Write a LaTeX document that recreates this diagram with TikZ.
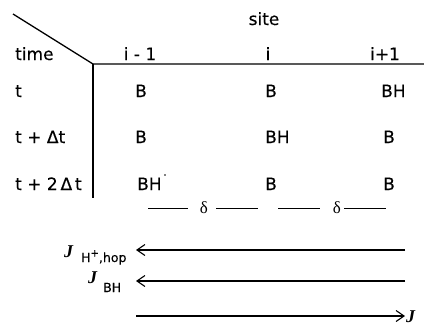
\documentclass[tikz,border=0pt]{standalone}
\usepackage{fontspec}
\setmainfont[FakeBold=0.3]{DejaVu Sans}
\newfontfamily\jfont{Liberation Serif}
\usetikzlibrary{arrows.meta}
\begin{document}
\begin{tikzpicture}[x=1pt,y=-1pt,
  lbl/.style={font=\fontsize{17}{20}\selectfont, inner sep=0pt, anchor=base west},
  hdr/.style={font=\fontsize{17}{20}\selectfont, inner sep=0pt, anchor=base},
  dlt/.style={font=\jfont\fontsize{17}{20}\selectfont, inner sep=0pt, anchor=base},
  jsym/.style={font=\jfont\fontsize{18}{20}\selectfont\bfseries\itshape, inner sep=0pt, anchor=base west},
  jsub/.style={font=\fontsize{12.5}{14}\selectfont, inner sep=0pt, anchor=base west},
  rule/.style={line width=1.3pt},
  dline/.style={line width=1pt},
  flux/.style={line width=1.1pt},
  tip/.style={-{Straight Barb[length=8pt,width=11pt,line width=1.1pt]}}
]
\useasboundingbox (0,0) rectangle (424,330);
% table frame
\coordinate (diag) at (13,14);
\coordinate (corner) at (93,64);
\coordinate (hend) at (424,64);
\coordinate (vend) at (93,198);
\draw[rule] (diag) -- (corner) -- (hend);
\draw[rule] (corner) -- (vend);
% headers
\node[hdr] (site) at (264,25) {site};
\node[lbl] (time) at (15,60) {time};
\node[hdr] (c1) at (140,60) {i - 1};
\node[hdr] (c2) at (268,60) {i};
\node[hdr] (c3) at (385,60) {i+1};
% row labels
\node[lbl] (r1) at (15,97) {t};
\node[lbl] (r2) at (15,143) {t + Δt};
\node[lbl] (r3) at (15,190) {t + 2\,Δ\,t};
% cells
\node[lbl] (b11) at (135,97) {B};
\node[lbl] (b12) at (265,97) {B};
\node[lbl] (b13) at (381,97) {BH};
\node[lbl] (b21) at (135,143) {B};
\node[lbl] (b22) at (265,143) {BH};
\node[lbl] (b23) at (383,143) {B};
\node[lbl] (b31) at (137,190) {BH};
\fill (165,175) circle (0.8pt);
\node[lbl] (b32) at (265,190) {B};
\node[lbl] (b33) at (383,190) {B};
% delta spacing
\node[dlt] (d1) at (204,213) {δ};
\node[dlt] (d2) at (337,213) {δ};
\coordinate (d1a) at (148,208);
\coordinate (d1b) at (258,208);
\coordinate (d2a) at (278,208);
\coordinate (d2b) at (386,208);
\draw[dline] (d1a) -- (d1a -| 188,0);
\draw[dline] (d1b -| 216,0) -- (d1b);
\draw[dline] (d2a) -- (d2a -| 320,0);
\draw[dline] (d2b -| 344,0) -- (d2b);
% fluxes
\node[jsym] (j1) at (64,257) {J};
\node[jsub] (s1) at (81,262) {H\raisebox{5.5pt}{\fontsize{10}{12}\selectfont +},hop};
\node[jsym] (j2) at (88,283) {J};
\node[jsub] (s2) at (103,292) {BH};
\node[jsym] (j3) at (406,322) {J};
\coordinate (a1r) at (405,250);
\coordinate (a1l) at (136,250);
\coordinate (a2r) at (405,281);
\coordinate (a2l) at (136,281);
\coordinate (a3l) at (136,316);
\coordinate (a3r) at (405,316);
\draw[flux,tip] (a1r) -- (a1l);
\draw[flux,tip] (a2r) -- (a2l);
\draw[flux,tip] (a3l) -- (a3r);
\end{tikzpicture}
\end{document}
